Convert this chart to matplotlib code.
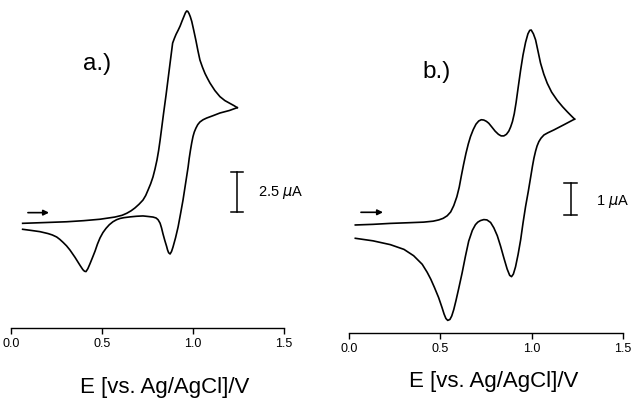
# Cyclic voltammograms a.) and b.), current in uA vs potential in V
import matplotlib.pyplot as plt

plt.rcParams['font.family'] = ['Liberation Sans', 'DejaVu Sans']

# panel a: forward (anodic) scan
ea_fwd = [0.064, 0.187, 0.306, 0.400, 0.489, 0.571, 0.610, 0.636, 0.660, 0.681,
          0.703, 0.725, 0.740, 0.753, 0.767, 0.780, 0.791, 0.802, 0.811, 0.819,
          0.828, 0.838, 0.852, 0.864, 0.876, 0.888, 0.898, 0.907, 0.918, 0.929,
          0.940, 0.951, 0.958, 0.965, 0.971, 0.978, 0.985, 0.993, 1.004, 1.016,
          1.027, 1.038, 1.052, 1.066, 1.080, 1.093, 1.120, 1.148, 1.175, 1.203,
          1.225, 1.243]
ia_fwd = [0.17, 0.22, 0.27, 0.34, 0.43, 0.57, 0.68, 0.81, 0.97, 1.15,
          1.38, 1.65, 1.94, 2.29, 2.68, 3.12, 3.62, 4.20, 4.80, 5.45,
          6.25, 7.15, 8.35, 9.45, 10.55, 11.64, 11.95, 12.20, 12.45, 12.72,
          13.05, 13.36, 13.56, 13.68, 13.66, 13.52, 13.32, 13.02, 12.45, 11.80,
          11.15, 10.56, 10.10, 9.70, 9.38, 9.10, 8.62, 8.23, 7.98, 7.80,
          7.66, 7.53]
# panel a: reverse (cathodic) scan
ea_rev = [1.243, 1.200, 1.148, 1.110, 1.075, 1.055, 1.038, 1.026, 1.016, 1.007,
          1.000, 0.993, 0.986, 0.979, 0.973, 0.959, 0.945, 0.931, 0.918, 0.904,
          0.890, 0.882, 0.874, 0.866, 0.860, 0.855, 0.845, 0.835, 0.827, 0.819,
          0.808, 0.797, 0.780, 0.750, 0.725, 0.690, 0.654, 0.620, 0.599, 0.580,
          0.560, 0.540, 0.522, 0.505, 0.489, 0.475, 0.462, 0.448, 0.434, 0.422,
          0.412, 0.404, 0.395, 0.379, 0.352, 0.324, 0.305, 0.286, 0.268, 0.251,
          0.227, 0.203, 0.159, 0.110, 0.064]
ia_rev = [7.53, 7.35, 7.19, 7.02, 6.87, 6.76, 6.62, 6.45, 6.23, 5.98,
          5.70, 5.30, 4.83, 4.30, 3.75, 2.70, 1.65, 0.75, -0.06, -0.75,
          -1.34, -1.62, -1.78, -1.70, -1.52, -1.30, -0.92, -0.50, -0.12, 0.18,
          0.40, 0.51, 0.57, 0.61, 0.64, 0.62, 0.58, 0.53, 0.48, 0.40,
          0.27, 0.08, -0.15, -0.42, -0.76, -1.15, -1.59, -2.00, -2.40, -2.72,
          -2.90, -2.88, -2.78, -2.50, -2.00, -1.53, -1.26, -1.04, -0.85, -0.70,
          -0.57, -0.48, -0.36, -0.28, -0.21]

# panel b: forward scan
eb_fwd = [0.033, 0.130, 0.225, 0.320, 0.408, 0.460, 0.491, 0.515, 0.537, 0.556,
          0.573, 0.590, 0.603, 0.615, 0.627, 0.640, 0.653, 0.665, 0.680, 0.695,
          0.710, 0.724, 0.738, 0.752, 0.765, 0.782, 0.800, 0.818, 0.833, 0.848,
          0.862, 0.875, 0.885, 0.895, 0.905, 0.915, 0.927, 0.940, 0.953, 0.967,
          0.980, 0.990, 0.998, 1.010, 1.022, 1.035, 1.049, 1.067, 1.086, 1.110,
          1.141, 1.170, 1.196, 1.220, 1.236]
ib_fwd = [0.19, 0.21, 0.24, 0.26, 0.28, 0.31, 0.35, 0.40, 0.48, 0.60,
          0.80, 1.08, 1.38, 1.75, 2.10, 2.45, 2.75, 2.98, 3.20, 3.37,
          3.47, 3.51, 3.50, 3.46, 3.40, 3.28, 3.15, 3.05, 3.00, 3.00,
          3.05, 3.15, 3.28, 3.45, 3.70, 4.05, 4.55, 5.08, 5.55, 5.95,
          6.22, 6.33, 6.34, 6.22, 6.03, 5.68, 5.30, 4.95, 4.66, 4.38,
          4.12, 3.92, 3.76, 3.62, 3.53]
# panel b: reverse scan
eb_rev = [1.236, 1.180, 1.123, 1.090, 1.068, 1.052, 1.040, 1.030, 1.022, 1.013,
          1.005, 0.995, 0.982, 0.967, 0.953, 0.940, 0.926, 0.912, 0.900, 0.890,
          0.880, 0.866, 0.848, 0.830, 0.812, 0.793, 0.775, 0.755, 0.738, 0.720,
          0.705, 0.692, 0.675, 0.655, 0.637, 0.619, 0.600, 0.585, 0.573, 0.562,
          0.552, 0.540, 0.530, 0.520, 0.509, 0.490, 0.467, 0.447, 0.427, 0.400,
          0.353, 0.300, 0.225, 0.130, 0.033]
ib_rev = [3.53, 3.36, 3.19, 3.10, 3.03, 2.93, 2.82, 2.68, 2.52, 2.30,
          2.05, 1.70, 1.25, 0.77, 0.25, -0.28, -0.74, -1.13, -1.36, -1.44,
          -1.40, -1.20, -0.85, -0.48, -0.15, 0.10, 0.27, 0.35, 0.36, 0.33,
          0.28, 0.20, 0.02, -0.32, -0.80, -1.32, -1.82, -2.20, -2.48, -2.68,
          -2.79, -2.82, -2.76, -2.62, -2.42, -2.10, -1.78, -1.52, -1.30, -1.05,
          -0.78, -0.58, -0.43, -0.31, -0.23]

xticks = [0.0, 0.5, 1.0, 1.5]
xtick_labels = ['0.0', '0.5', '1.0', '1.5']


def setup_axis(ax, ylim):
    ax.set_xlim(0, 1.5)
    ax.set_ylim(*ylim)
    for s in ['top', 'left', 'right']:
        ax.spines[s].set_visible(False)
    ax.spines['bottom'].set_linewidth(1.0)
    ax.set_yticks([])
    ax.set_xticks(xticks)
    ax.set_xticklabels(xtick_labels)
    ax.tick_params(axis='x', direction='out', length=4, width=1.0,
                   labelsize=9, pad=3)
    ax.patch.set_visible(False)


def scale_bar(ax, e, i0, di, half, label, ex_text, i_text):
    ax.plot([e, e], [i0, i0 + di], color='k', lw=1.1)
    ax.plot([e - half, e + half], [i0, i0], color='k', lw=1.1)
    ax.plot([e - half, e + half], [i0 + di, i0 + di], color='k', lw=1.1)
    ax.text(ex_text, i_text, label, fontsize=10.5, va='center', ha='left')


def arrow(ax, e0, e1, i):
    ax.annotate('', xy=(e1, i), xytext=(e0, i),
                arrowprops=dict(arrowstyle='-|>', lw=1.2, color='k',
                                mutation_scale=8, shrinkA=0, shrinkB=0))


fig = plt.figure(figsize=(6.32, 3.98), dpi=100)

axa = fig.add_axes([0.01741, 0.17588, 0.4320, 0.82412])
setup_axis(axa, (-6.49, 14.38))
axa.plot(ea_fwd, ia_fwd, color='k', lw=1.2, clip_on=False, solid_joinstyle='round')
axa.plot(ea_rev, ia_rev, color='k', lw=1.2, clip_on=False, solid_joinstyle='round')
scale_bar(axa, 1.243, 0.91, 2.5, 0.034, r'2.5 $\mu$A', 1.357, 2.16)
arrow(axa, 0.093, 0.209, 0.85)

axb = fig.add_axes([0.5527, 0.16256, 0.4326, 0.83744])
setup_axis(axb, (-3.227, 7.287))
axb.plot(eb_fwd, ib_fwd, color='k', lw=1.2, clip_on=False, solid_joinstyle='round')
axb.plot(eb_rev, ib_rev, color='k', lw=1.2, clip_on=False, solid_joinstyle='round')
scale_bar(axb, 1.214, 0.505, 1.0, 0.036, r'1 $\mu$A', 1.352, 0.92)
arrow(axb, 0.064, 0.185, 0.59)

fig.text(82.7 / 632, 1 - 70 / 398, 'a.)', fontsize=17.5, ha='left', va='baseline')
fig.text(422.7 / 632, 1 - 78 / 398, 'b.)', fontsize=17.5, ha='left', va='baseline')

fig.text(164.5 / 632, 1 - 393 / 398, 'E [vs. Ag/AgCl]/V', fontsize=16,
         ha='center', va='baseline')
fig.text(494 / 632, 1 - 387 / 398, 'E [vs. Ag/AgCl]/V', fontsize=16,
         ha='center', va='baseline')

fig.savefig('out.png', dpi=100)
